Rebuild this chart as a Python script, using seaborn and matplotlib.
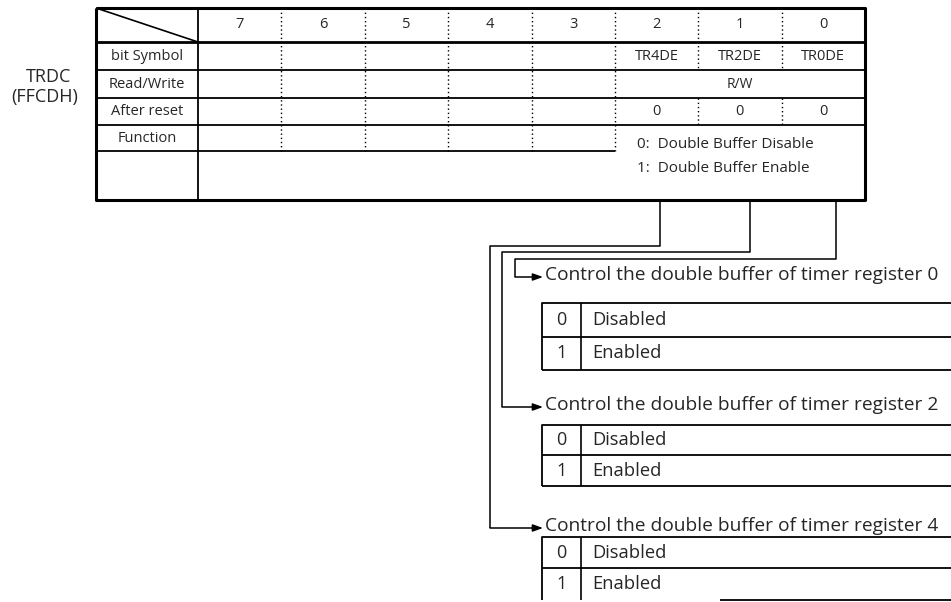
import numpy as np
import matplotlib
matplotlib.use("Agg")
import matplotlib.pyplot as plt
import seaborn as sns

sns.set_theme(style="white")
plt.rcParams['font.family'] = ['Open Sans', 'DejaVu Sans']

# register description
reg_name = "TRDC"
reg_addr = "(FFCDH)"
bit_numbers = ["7", "6", "5", "4", "3", "2", "1", "0"]
row_labels = ["bit Symbol", "Read/Write", "After reset", "Function"]
bit_symbols = ["", "", "", "", "", "TR4DE", "TR2DE", "TR0DE"]
reset_values = ["", "", "", "", "", "0", "0", "0"]
rw_text = "R/W"
function_lines = ["0:  Double Buffer Disable", "1:  Double Buffer Enable"]

# detail boxes, in the order they appear from top to bottom
detail_titles = ["Control the double buffer of timer register 0",
                 "Control the double buffer of timer register 2",
                 "Control the double buffer of timer register 4"]
detail_codes = ["0", "1"]
detail_meanings = ["Disabled", "Enabled"]

# layout (pixels, y pointing down)
W, H = 951, 602
left, lab_r, right = 96, 198, 865
top = 8
row_y = [8, 42, 70, 98, 125, 151, 200]
bit_w = (right - lab_r) / 8
bit_x = [lab_r + bit_w * k for k in range(9)]

# connector geometry: source x at table bottom, turn y, drop x
conn_src = [836, 750, 660]
conn_turn = [259, 252, 246]
conn_drop = [515, 502, 490]
title_y = [275, 405, 526]
box_rows = [(303, 337, 370), (425, 455, 486), (537, 568, 600)]
box_l, box_div = 542, 581

fig = plt.figure(figsize=(W / 100, H / 100), dpi=100)
ax = fig.add_axes([0, 0, 1, 1])
ax.set_xlim(0, W)
ax.set_ylim(H, 0)
ax.axis("off")

k = dict(color="black", solid_capstyle="butt")
dot = dict(color="black", linestyle=(0, (1, 2)), linewidth=1.0)

# main table frame
ax.plot([left, right, right, left, left], [top, top, row_y[-1], row_y[-1], top], lw=2.2, **k)
ax.plot([lab_r, lab_r], [top, row_y[-1]], lw=1.3, **k)
ax.plot([left, right], [row_y[1], row_y[1]], lw=2.0, **k)
for y in row_y[2:5]:
    ax.plot([left, right], [y, y], lw=1.3, **k)
ax.plot([left, bit_x[5]], [row_y[5], row_y[5]], lw=1.3, **k)
ax.plot([left, lab_r], [top, row_y[1]], lw=1.2, **k)

# dotted bit separators
for i in range(1, 8):
    if i <= 5:
        ax.plot([bit_x[i]] * 2, [top, row_y[5]], **dot)
    else:
        ax.plot([bit_x[i]] * 2, [top, row_y[2]], **dot)
        ax.plot([bit_x[i]] * 2, [row_y[3], row_y[4]], **dot)

fs = 10.5
lab_cx = (left + lab_r) / 2
for i, b in enumerate(bit_numbers):
    cx = (bit_x[i] + bit_x[i + 1]) / 2
    ax.text(cx, (row_y[0] + row_y[1]) / 2, b, ha="center", va="center", fontsize=fs)
    if bit_symbols[i]:
        ax.text(cx, (row_y[1] + row_y[2]) / 2, bit_symbols[i], ha="center", va="center", fontsize=fs)
    if reset_values[i]:
        ax.text(cx, (row_y[3] + row_y[4]) / 2, reset_values[i], ha="center", va="center", fontsize=fs)
for j, lab in enumerate(row_labels):
    ax.text(lab_cx, (row_y[j + 1] + row_y[j + 2]) / 2, lab, ha="center", va="center", fontsize=fs)
ax.text((bit_x[5] + right) / 2, (row_y[2] + row_y[3]) / 2, rw_text, ha="center", va="center", fontsize=fs - 0.5)
for j, line in enumerate(function_lines):
    ax.text(637, 144 + 24 * j, line, ha="left", va="center", fontsize=11)

ax.text(49, 77, reg_name, ha="center", va="center", fontsize=13)
ax.text(45, 97, reg_addr, ha="center", va="center", fontsize=13)

# connectors and detail boxes
for n in range(3):
    ay = title_y[n] + 2
    ax.plot([conn_src[n], conn_src[n], conn_drop[n], conn_drop[n]],
            [row_y[-1], conn_turn[n], conn_turn[n], ay], lw=1.1, **k)
    ax.annotate("", xy=(543, ay), xytext=(conn_drop[n], ay),
                arrowprops=dict(arrowstyle="-|>,head_length=0.5,head_width=0.18",
                                color="black", lw=1.1, shrinkA=0, shrinkB=0))
    ax.text(545, title_y[n], detail_titles[n], ha="left", va="center", fontsize=13.8)

    t, m, b = box_rows[n]
    bottom_start = box_l if n < 2 else 720
    ax.plot([W, box_l, box_l], [t, t, b], lw=1.3, **k)
    ax.plot([box_l, W], [m, m], lw=1.3, **k)
    ax.plot([bottom_start, W], [b, b], lw=1.3, **k)
    ax.plot([box_div, box_div], [t, b], lw=1.2, **k)
    for r in range(2):
        cy = (t + m) / 2 if r == 0 else (m + b) / 2
        ax.text((box_l + box_div) / 2, cy, detail_codes[r], ha="center", va="center", fontsize=13)
        ax.text(592, cy, detail_meanings[r], ha="left", va="center", fontsize=13.2)

fig.savefig("out.png", dpi=100)
